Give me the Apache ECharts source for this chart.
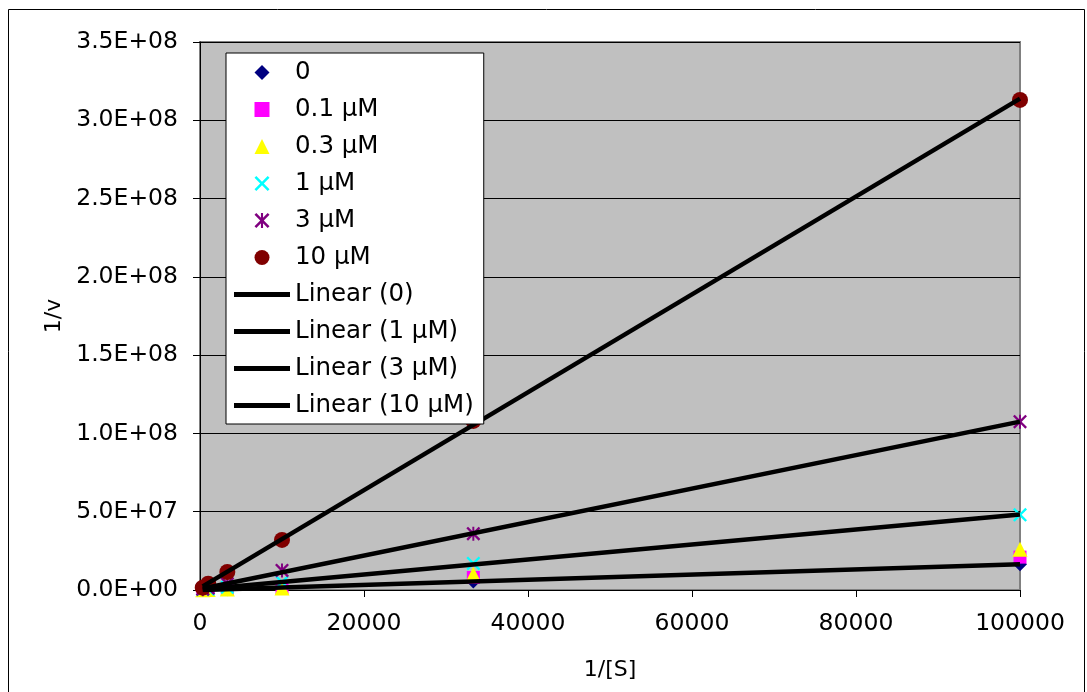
<!DOCTYPE html>
<html>
<head>
<meta charset="utf-8">
<script src="https://cdn.jsdelivr.net/npm/echarts@6/dist/echarts.min.js"></script>
<style>
  html, body { margin: 0; padding: 0; background: #fff; }
  #chart { width: 1087px; height: 692px; }
</style>
</head>
<body>
<div id="chart"></div>
<script>
// 1/[S] values
const invS = [333, 1000, 3333, 10000, 33333, 100000];

// 1/v for each inhibitor concentration
const v0 = [1.0e5, 2.0e5, 5.0e5, 1.5e6, 5.5e6, 1.65e7];
const v01 = [1.0e5, 3.0e5, 6.0e5, 1.5e6, 8.0e6, 2.1e7];
const v03 = [1.0e5, 3.0e5, 6.0e5, 1.2e6, 1.0e7, 2.6e7];
const v1 = [3.0e5, 6.0e5, 1.8e6, 5.0e6, 1.7e7, 4.8e7];
const v3 = [5.0e5, 1.3e6, 4.0e6, 1.25e7, 3.6e7, 1.075e8];
const v10 = [1.5e6, 4.0e6, 1.15e7, 3.2e7, 1.08e8, 3.13e8];

const seriesNames = ['0', '0.1 µM', '0.3 µM', '1 µM', '3 µM', '10 µM'];
const trendNames = ['Linear (0)', 'Linear (1 µM)', 'Linear (3 µM)', 'Linear (10 µM)'];

const FONT = 'DejaVu Sans';

// marker shapes (paths so the legend keeps their aspect)
const diamondPath = 'path://M5,0L10,5L5,10L0,5Z';
const squarePath = 'path://M0,0L10,0L10,10L0,10Z';
const trianglePath = 'path://M5,0L10,10L0,10Z';
const xPath = 'path://M0,1.2L1.2,0L5,3.8L8.8,0L10,1.2L6.2,5L10,8.8L8.8,10L5,6.2L1.2,10L0,8.8L3.8,5Z';
const starPath = xPath + 'M4.3,0L5.7,0L5.7,10L4.3,10Z';
const lineIcon = 'path://M0,0L56,0L56,5L0,5Z';
const markerIcons = [diamondPath, squarePath, trianglePath, xPath, starPath, 'circle'];

function pairs(ys) {
  return invS.map((x, i) => [x, ys[i]]);
}

// least squares line, like Excel's linear trendline
function trend(ys) {
  const n = invS.length;
  let sx = 0, sy = 0, sxx = 0, sxy = 0;
  for (let i = 0; i < n; i++) {
    sx += invS[i]; sy += ys[i];
    sxx += invS[i] * invS[i]; sxy += invS[i] * ys[i];
  }
  const m = (n * sxy - sx * sy) / (n * sxx - sx * sx);
  const b = (sy - m * sx) / n;
  const x0 = invS[0], x1 = invS[n - 1];
  return [[x0, m * x0 + b], [x1, m * x1 + b]];
}

function sci(v) {
  const s = v.toExponential(1).toUpperCase();
  const parts = s.split('E');
  const exp = parseInt(parts[1], 10);
  const sign = exp < 0 ? '-' : '+';
  const digits = String(Math.abs(exp)).padStart(2, '0');
  return parts[0] + 'E' + sign + digits;
}

const scatter = (name, ys, symbol, size, color) => ({
  name: name,
  type: 'scatter',
  data: pairs(ys),
  symbol: symbol,
  symbolSize: size,
  itemStyle: { color: color, opacity: 1 },
  z: 2
});

const line = (name, ys) => ({
  name: name,
  type: 'line',
  data: trend(ys),
  symbol: 'none',
  lineStyle: { color: '#000', width: 4.5 },
  itemStyle: { color: '#000' },
  z: 3,
  silent: true
});

const legendData = seriesNames.map((n, i) => ({ name: n, icon: markerIcons[i] }))
  .concat(trendNames.map(n => ({ name: n, icon: lineIcon })));

const chart = echarts.init(document.getElementById('chart'));
chart.setOption({
  animation: false,
  backgroundColor: '#fff',
  textStyle: { fontFamily: FONT },
  graphic: [
    {
      type: 'rect',
      shape: { x: 8.5, y: 9.5, width: 1076, height: 700 },
      style: { fill: 'none', stroke: '#000', lineWidth: 1 },
      z: -10
    }
  ],
  grid: {
    left: 200, right: 67, top: 42, bottom: 102,
    show: true,
    backgroundColor: '#c0c0c0',
    borderColor: '#808080',
    borderWidth: 2
  },
  legend: {
    orient: 'vertical',
    left: 226,
    top: 53,
    z: 10,
    padding: [7, 10, 6, 8],
    backgroundColor: '#fff',
    borderColor: '#000',
    borderWidth: 1,
    borderRadius: 0,
    itemWidth: 56,
    itemHeight: 15,
    itemGap: 12,
    symbolKeepAspect: true,
    textStyle: { fontFamily: FONT, fontSize: 24.5, color: '#000' },
    data: legendData
  },
  xAxis: {
    type: 'value',
    min: 0, max: 100000, interval: 20000,
    name: '1/[S]',
    nameLocation: 'middle',
    nameGap: 69,
    nameTextStyle: { fontFamily: FONT, fontSize: 22, color: '#000' },
    axisLine: { show: true, onZero: false, lineStyle: { color: '#000', width: 1 } },
    axisTick: { show: true, length: 7, lineStyle: { color: '#000' } },
    axisLabel: { fontFamily: FONT, fontSize: 23.5, color: '#000', margin: 22, formatter: v => String(v) },
    splitLine: { show: false }
  },
  yAxis: {
    type: 'value',
    min: 0, max: 3.5e8, interval: 5e7,
    name: '1/v',
    nameLocation: 'middle',
    nameGap: 135,
    nameTextStyle: { fontFamily: FONT, fontSize: 22, color: '#000' },
    axisLine: { show: true, onZero: false, lineStyle: { color: '#000', width: 1 } },
    axisTick: { show: true, length: 7, lineStyle: { color: '#000' } },
    axisLabel: { fontFamily: FONT, fontSize: 23.5, color: '#000', margin: 22, formatter: sci },
    splitLine: { show: true, lineStyle: { color: '#000', width: 1 } }
  },
  series: [
    scatter('0', v0, diamondPath, 14, '#000080'),
    scatter('0.1 µM', v01, squarePath, 13, '#ff00ff'),
    scatter('0.3 µM', v03, trianglePath, 15, '#ffff00'),
    scatter('1 µM', v1, xPath, 14, '#00ffff'),
    scatter('3 µM', v3, starPath, 14, '#800080'),
    scatter('10 µM', v10, 'circle', 16, '#800000'),
    line('Linear (0)', v0),
    line('Linear (1 µM)', v1),
    line('Linear (3 µM)', v3),
    line('Linear (10 µM)', v10)
  ]
});
</script>
</body>
</html>
